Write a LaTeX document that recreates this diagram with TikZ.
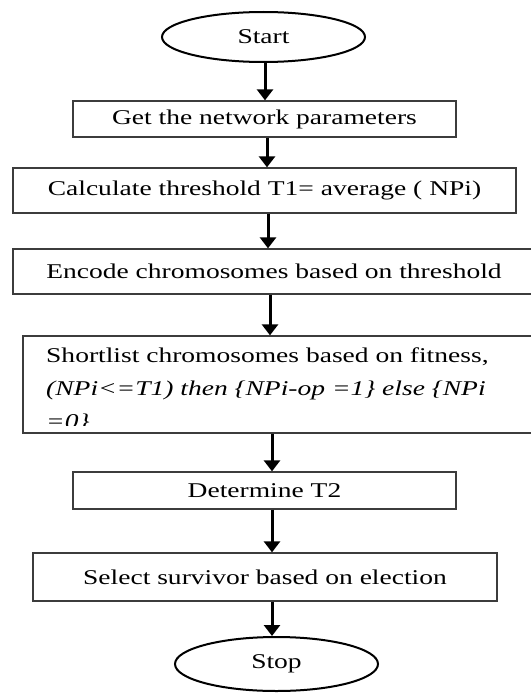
\documentclass[tikz,border=0pt]{standalone}
\usepackage{fontspec}
\setmainfont{Liberation Serif}
\usepackage{graphicx}
\usetikzlibrary{arrows.meta,shapes.geometric}
\definecolor{boxgray}{HTML}{3C3C3C}
% text in this chart is set slightly wide
\newcommand{\wide}[1]{\scalebox{1.31}[1]{#1}}
\begin{document}
\begin{tikzpicture}[x=1pt,y=-1pt,
  every node/.style={font=\fontsize{21}{33}\selectfont, text=black},
  stepbox/.style={draw=boxgray, line width=1.3pt, rectangle, inner sep=0pt},
  term/.style={draw=black, line width=2pt, ellipse, inner sep=0pt,
               minimum width=203pt, minimum height=50pt},
  flow/.style={line width=3pt, -{Triangle[width=16pt,length=11pt]}}]

\useasboundingbox (0,0) rectangle (530,693);
\fill[white] (0,0) rectangle (530,693);

% terminals
\node[term] (start) at (263.5,37) {\wide{Start}};
\node[term, minimum height=54pt] (stop) at (276.5,664) {\wide{Stop}};

% process steps
\node[stepbox, minimum width=383pt, minimum height=36pt] (b1) at (264.5,119)
  {\wide{Get the network parameters}};
\node[stepbox, minimum width=503pt, minimum height=45pt] (b2) at (264.5,190.5)
  {\wide{Calculate threshold T1= average ( NPi)}};
\node[stepbox, minimum width=522pt, minimum height=45pt] (b3) at (274,271.5)
  {\wide{Encode chromosomes based on threshold}};
\node[stepbox, minimum width=524pt, minimum height=97pt] (b4) at (285,384.5) {};
\begin{scope}
  \clip (24,337) rectangle (545,425);
  \node[anchor=base west, inner sep=0pt] (b4text) at (46,362)
    {\wide{\begin{tabular}[t]{@{}l@{}}
      Shortlist chromosomes based on fitness,\\
      \itshape (NPi<=T1) then \{NPi-op =1\} else \{NPi\\
      \itshape =0\}
    \end{tabular}}};
\end{scope}
\node[stepbox, minimum width=383pt, minimum height=37pt] (b5) at (264.5,490.5)
  {\wide{Determine T2}};
\node[stepbox, minimum width=464pt, minimum height=48pt] (b6) at (265,577)
  {\wide{Select survivor based on election}};

% arrow columns
\coordinate (ax1) at (265,0);
\coordinate (ax2) at (267,0);
\coordinate (ax3) at (268,0);
\coordinate (ax4) at (270,0);
\coordinate (ax5) at (272,0);
\coordinate (ax6) at (272,0);
\coordinate (ax7) at (272,0);

\draw[flow] (start.south -| ax1) -- (b1.north -| ax1);
\draw[flow] (b1.south -| ax2) -- (b2.north -| ax2);
\draw[flow] (b2.south -| ax3) -- (b3.north -| ax3);
\draw[flow] (b3.south -| ax4) -- (b4.north -| ax4);
\draw[flow] (b4.south -| ax5) -- (b5.north -| ax5);
\draw[flow] (b5.south -| ax6) -- (b6.north -| ax6);
\draw[flow] (b6.south -| ax7) -- (stop.north -| ax7);
\end{tikzpicture}
\end{document}
